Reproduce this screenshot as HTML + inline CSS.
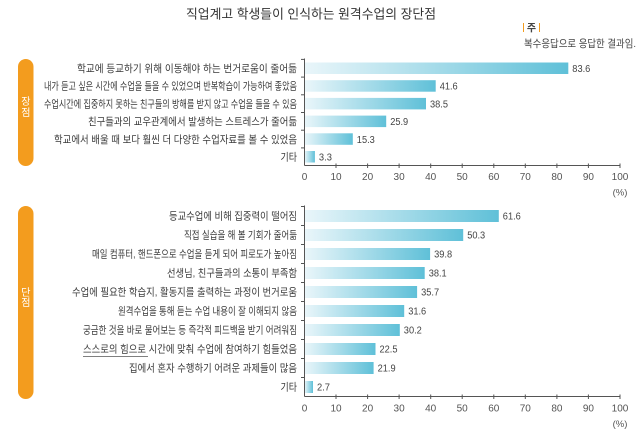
<!DOCTYPE html>
<html>
<head>
<meta charset="utf-8">
<style>
html,body{margin:0;padding:0;background:#fff;}
svg{display:block;}
text{font-family:"Liberation Sans","Noto Sans CJK KR",sans-serif;}
.k{font-family:"Noto Sans CJK KR","NanumGothic",sans-serif;}
</style>
</head>
<body>
<svg width="640" height="434" viewBox="0 0 640 434" xmlns="http://www.w3.org/2000/svg">
<defs>
<linearGradient id="g" x1="0" y1="0" x2="1" y2="0">
<stop offset="0" stop-color="#eaf6fa"/>
<stop offset="1" stop-color="#5fc0d8"/>
</linearGradient>
</defs>
<rect width="640" height="434" fill="#fff"/>

<!-- Title -->
<text x="186" y="18.5" font-size="13" fill="#333" textLength="250" lengthAdjust="spacingAndGlyphs">직업계고 학생들이 인식하는 원격수업의 장단점</text>

<!-- Note -->
<rect x="523" y="23" width="1" height="9" fill="#f39c1e"/>
<text x="531.5" y="31.5" font-size="10" font-weight="bold" fill="#444" text-anchor="middle">주</text>
<rect x="539" y="23" width="1" height="9" fill="#f39c1e"/>
<text x="524" y="47" font-size="10.5" fill="#444" textLength="112" lengthAdjust="spacingAndGlyphs">복수응답으로 응답한 결과임.</text>

<!-- Pills -->
<rect x="18" y="59" width="15.5" height="107" rx="7.75" fill="#f39c1e"/>
<text class="k" x="25.8" y="105" font-size="10" fill="#fff" text-anchor="middle">장</text>
<text class="k" x="25.8" y="116" font-size="10" fill="#fff" text-anchor="middle">점</text>
<rect x="18" y="206" width="15.5" height="193" rx="7.75" fill="#f39c1e"/>
<text class="k" x="25.8" y="296" font-size="10" fill="#fff" text-anchor="middle">단</text>
<text class="k" x="25.8" y="306" font-size="10" fill="#fff" text-anchor="middle">점</text>

<!-- TOP SECTION -->
<g fill="url(#g)">
<rect x="304.5" y="62.5" width="263.8" height="11.5"/>
<rect x="304.5" y="80.2" width="131.2" height="11.5"/>
<rect x="304.5" y="97.9" width="121.5" height="11.5"/>
<rect x="304.5" y="115.6" width="81.7" height="11.5"/>
<rect x="304.5" y="133.3" width="48.3" height="11.5"/>
<rect x="304.5" y="151.0" width="10.4" height="11.5"/>
</g>
<g font-size="10.5" fill="#3a3a3a">
<text x="77" y="72" textLength="220" lengthAdjust="spacingAndGlyphs">학교에 등교하기 위해 이동해야 하는 번거로움이 줄어듦</text>
<text x="44" y="89.7" textLength="253" lengthAdjust="spacingAndGlyphs">내가 듣고 싶은 시간에 수업을 들을 수 있었으며 반복학습이 가능하여 좋았음</text>
<text x="44" y="107.4" textLength="253" lengthAdjust="spacingAndGlyphs">수업시간에 집중하지 못하는 친구들의 방해를 받지 않고 수업을 들을 수 있음</text>
<text x="88" y="125.1" textLength="209" lengthAdjust="spacingAndGlyphs">친구들과의 교우관계에서 발생하는 스트레스가 줄어듦</text>
<text x="54" y="142.8" textLength="243" lengthAdjust="spacingAndGlyphs">학교에서 배울 때 보다 훨씬 더 다양한 수업자료를 볼 수 있었음</text>
<text x="280.5" y="160.5" textLength="16.5" lengthAdjust="spacingAndGlyphs">기타</text>
</g>
<g font-size="10" fill="#444">
<text x="572.3" y="72" textLength="18" lengthAdjust="spacingAndGlyphs">83.6</text>
<text x="439.7" y="89.7" textLength="18" lengthAdjust="spacingAndGlyphs">41.6</text>
<text x="430" y="107.4" textLength="18" lengthAdjust="spacingAndGlyphs">38.5</text>
<text x="390.2" y="125.1" textLength="18" lengthAdjust="spacingAndGlyphs">25.9</text>
<text x="356.8" y="142.8" textLength="18" lengthAdjust="spacingAndGlyphs">15.3</text>
<text x="318.9" y="160.5" textLength="13" lengthAdjust="spacingAndGlyphs">3.3</text>
</g>
<g stroke="#555" stroke-width="1" fill="none">
<line x1="304.5" y1="58.5" x2="304.5" y2="165.5"/>
<line x1="304.5" y1="165.5" x2="620" y2="165.5"/>
<line x1="301" y1="59.4" x2="304.5" y2="59.4"/>
<line x1="301" y1="77.1" x2="304.5" y2="77.1"/>
<line x1="301" y1="94.8" x2="304.5" y2="94.8"/>
<line x1="301" y1="112.5" x2="304.5" y2="112.5"/>
<line x1="301" y1="130.2" x2="304.5" y2="130.2"/>
<line x1="301" y1="147.9" x2="304.5" y2="147.9"/>
<line x1="336" y1="163.5" x2="336" y2="168"/>
<line x1="367.6" y1="163.5" x2="367.6" y2="168"/>
<line x1="399.1" y1="163.5" x2="399.1" y2="168"/>
<line x1="430.7" y1="163.5" x2="430.7" y2="168"/>
<line x1="462.2" y1="163.5" x2="462.2" y2="168"/>
<line x1="493.8" y1="163.5" x2="493.8" y2="168"/>
<line x1="525.3" y1="163.5" x2="525.3" y2="168"/>
<line x1="556.9" y1="163.5" x2="556.9" y2="168"/>
<line x1="588.4" y1="163.5" x2="588.4" y2="168"/>
<line x1="620" y1="163.5" x2="620" y2="168"/>
</g>
<g font-size="10" fill="#555" text-anchor="middle">
<text x="304.5" y="180">0</text>
<text x="336" y="180">10</text>
<text x="367.6" y="180">20</text>
<text x="399.1" y="180">30</text>
<text x="430.7" y="180">40</text>
<text x="462.2" y="180">50</text>
<text x="493.8" y="180">60</text>
<text x="525.3" y="180">70</text>
<text x="556.9" y="180">80</text>
<text x="588.4" y="180">90</text>
<text x="620" y="180">100</text>
<text x="620" y="195.5" font-size="9.5">(%)</text>
</g>

<!-- BOTTOM SECTION -->
<g fill="url(#g)">
<rect x="304.5" y="210" width="194.3" height="12"/>
<rect x="304.5" y="229" width="158.7" height="12"/>
<rect x="304.5" y="248" width="125.6" height="12"/>
<rect x="304.5" y="267" width="120.2" height="12"/>
<rect x="304.5" y="286" width="112.6" height="12"/>
<rect x="304.5" y="305" width="99.7" height="12"/>
<rect x="304.5" y="324" width="95.3" height="12"/>
<rect x="304.5" y="343" width="71.0" height="12"/>
<rect x="304.5" y="362" width="69.1" height="12"/>
<rect x="304.5" y="381" width="8.5" height="12"/>
</g>
<g font-size="10.5" fill="#3a3a3a">
<text x="169" y="219.7" textLength="128" lengthAdjust="spacingAndGlyphs">등교수업에 비해 집중력이 떨어짐</text>
<text x="184" y="238.7" textLength="113" lengthAdjust="spacingAndGlyphs">직접 실습을 해 볼 기회가 줄어듦</text>
<text x="92" y="257.7" textLength="205" lengthAdjust="spacingAndGlyphs">매일 컴퓨터, 핸드폰으로 수업을 듣게 되어 피로도가 높아짐</text>
<text x="167" y="276.7" textLength="130" lengthAdjust="spacingAndGlyphs">선생님, 친구들과의 소통이 부족함</text>
<text x="72" y="295.7" textLength="225" lengthAdjust="spacingAndGlyphs">수업에 필요한 학습지, 활동지를 출력하는 과정이 번거로움</text>
<text x="118" y="314.7" textLength="179" lengthAdjust="spacingAndGlyphs">원격수업을 통해 듣는 수업 내용이 잘 이해되지 않음</text>
<text x="83" y="333.7" textLength="214" lengthAdjust="spacingAndGlyphs">궁금한 것을 바로 물어보는 등 즉각적 피드백을 받기 어려워짐</text>
<text x="83" y="352.7" textLength="214" lengthAdjust="spacingAndGlyphs">스스로의 힘으로 시간에 맞춰 수업에 참여하기 힘들었음</text>
<text x="129" y="371.7" textLength="168" lengthAdjust="spacingAndGlyphs">집에서 혼자 수행하기 어려운 과제들이 많음</text>
<text x="280.5" y="390.7" textLength="16.5" lengthAdjust="spacingAndGlyphs">기타</text>
</g>
<line x1="83" y1="356.5" x2="148" y2="356.5" stroke="#555" stroke-width="0.8"/>
<g font-size="10" fill="#444">
<text x="502.8" y="219.7" textLength="18" lengthAdjust="spacingAndGlyphs">61.6</text>
<text x="467.2" y="238.7" textLength="18" lengthAdjust="spacingAndGlyphs">50.3</text>
<text x="434.1" y="257.7" textLength="18" lengthAdjust="spacingAndGlyphs">39.8</text>
<text x="428.7" y="276.7" textLength="18" lengthAdjust="spacingAndGlyphs">38.1</text>
<text x="421.1" y="295.7" textLength="18" lengthAdjust="spacingAndGlyphs">35.7</text>
<text x="408.2" y="314.7" textLength="18" lengthAdjust="spacingAndGlyphs">31.6</text>
<text x="403.8" y="333.7" textLength="18" lengthAdjust="spacingAndGlyphs">30.2</text>
<text x="379.5" y="352.7" textLength="18" lengthAdjust="spacingAndGlyphs">22.5</text>
<text x="377.6" y="371.7" textLength="18" lengthAdjust="spacingAndGlyphs">21.9</text>
<text x="317" y="390.7" textLength="13" lengthAdjust="spacingAndGlyphs">2.7</text>
</g>
<g stroke="#555" stroke-width="1" fill="none">
<line x1="304.5" y1="205.5" x2="304.5" y2="396.5"/>
<line x1="304.5" y1="396.5" x2="620" y2="396.5"/>
<line x1="301" y1="206.5" x2="304.5" y2="206.5"/>
<line x1="301" y1="225.5" x2="304.5" y2="225.5"/>
<line x1="301" y1="244.5" x2="304.5" y2="244.5"/>
<line x1="301" y1="263.5" x2="304.5" y2="263.5"/>
<line x1="301" y1="282.5" x2="304.5" y2="282.5"/>
<line x1="301" y1="301.5" x2="304.5" y2="301.5"/>
<line x1="301" y1="320.5" x2="304.5" y2="320.5"/>
<line x1="301" y1="339.5" x2="304.5" y2="339.5"/>
<line x1="301" y1="358.5" x2="304.5" y2="358.5"/>
<line x1="301" y1="377.5" x2="304.5" y2="377.5"/>
<line x1="336" y1="394.5" x2="336" y2="399"/>
<line x1="367.6" y1="394.5" x2="367.6" y2="399"/>
<line x1="399.1" y1="394.5" x2="399.1" y2="399"/>
<line x1="430.7" y1="394.5" x2="430.7" y2="399"/>
<line x1="462.2" y1="394.5" x2="462.2" y2="399"/>
<line x1="493.8" y1="394.5" x2="493.8" y2="399"/>
<line x1="525.3" y1="394.5" x2="525.3" y2="399"/>
<line x1="556.9" y1="394.5" x2="556.9" y2="399"/>
<line x1="588.4" y1="394.5" x2="588.4" y2="399"/>
<line x1="620" y1="394.5" x2="620" y2="399"/>
</g>
<g font-size="10" fill="#555" text-anchor="middle">
<text x="304.5" y="411.5">0</text>
<text x="336" y="411.5">10</text>
<text x="367.6" y="411.5">20</text>
<text x="399.1" y="411.5">30</text>
<text x="430.7" y="411.5">40</text>
<text x="462.2" y="411.5">50</text>
<text x="493.8" y="411.5">60</text>
<text x="525.3" y="411.5">70</text>
<text x="556.9" y="411.5">80</text>
<text x="588.4" y="411.5">90</text>
<text x="620" y="411.5">100</text>
<text x="620" y="427" font-size="9.5">(%)</text>
</g>
</svg>
</body>
</html>
